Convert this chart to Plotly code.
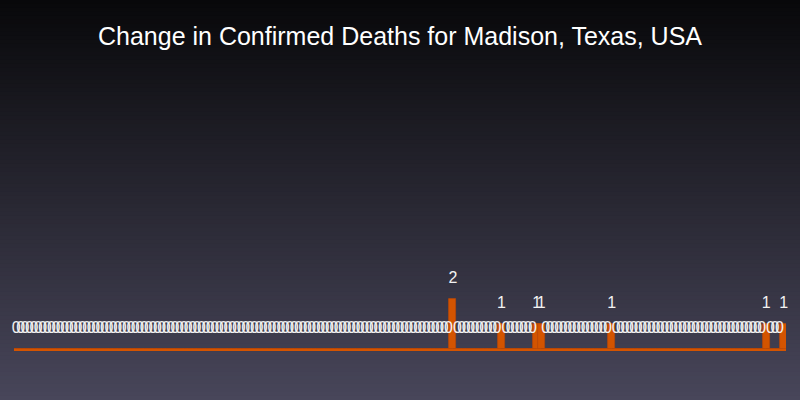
import plotly.graph_objects as go

# ---- data ----
days = list(range(175))
deaths_change = [
    0, 0, 0, 0, 0, 0, 0, 0, 0, 0, 0, 0, 0, 0, 0, 0, 0, 0, 0, 0,
    0, 0, 0, 0, 0, 0, 0, 0, 0, 0, 0, 0, 0, 0, 0, 0, 0, 0, 0, 0,
    0, 0, 0, 0, 0, 0, 0, 0, 0, 0, 0, 0, 0, 0, 0, 0, 0, 0, 0, 0,
    0, 0, 0, 0, 0, 0, 0, 0, 0, 0, 0, 0, 0, 0, 0, 0, 0, 0, 0, 0,
    0, 0, 0, 0, 0, 0, 0, 0, 0, 0, 0, 0, 0, 0, 0, 0, 0, 0, 0, 2,
    0, 0, 0, 0, 0, 0, 0, 0, 0, 0, 1, 0, 0, 0, 0, 0, 0, 0, 1, 1,
    0, 0, 0, 0, 0, 0, 0, 0, 0, 0, 0, 0, 0, 0, 0, 1, 0, 0, 0, 0,
    0, 0, 0, 0, 0, 0, 0, 0, 0, 0, 0, 0, 0, 0, 0, 0, 0, 0, 0, 0,
    0, 0, 0, 0, 0, 0, 0, 0, 0, 0, 1, 0, 0, 0, 1,
]
title_text = "Change in Confirmed Deaths for Madison, Texas, USA"

# ---- style ----
W, H = 800, 400
ML, MR, MT, MB = 14, 14, 99, 51
Y_MAX = 10
BAR_COLOR = "#d35400"
LABEL_OFFSET = 0.82
FONT = "Liberation Sans, Arial, sans-serif"

fig = go.Figure()
fig.add_trace(go.Bar(
    x=days, y=deaths_change,
    width=1.6,
    marker=dict(color=BAR_COLOR, line=dict(color="#b84808", width=0.8)),
    hoverinfo="skip",
))
fig.add_trace(go.Scatter(
    x=days, y=[v + LABEL_OFFSET for v in deaths_change],
    mode="text", text=[str(v) for v in deaths_change],
    textposition="middle center",
    textfont=dict(family=FONT, size=16, color="#f2f2f2"),
    hoverinfo="skip", cliponaxis=False,
))

# vertical gradient background built from thin strips
shapes = []
n_strips = 100
top_c = (8, 8, 10)
bot_c = (72, 70, 90)
ph = H - MT - MB
for k in range(n_strips):
    y0px = k * H / n_strips
    y1px = (k + 1) * H / n_strips
    t = (y0px + y1px) / 2 / H
    c = tuple(round(top_c[j] + (bot_c[j] - top_c[j]) * t) for j in range(3))
    shapes.append(dict(
        type="rect", xref="paper", yref="paper", layer="below",
        x0=-0.1, x1=1.1,
        y0=(H - MB - y1px) / ph - 0.001, y1=(H - MB - y0px) / ph + 0.001,
        fillcolor="rgb(%d,%d,%d)" % c, line=dict(width=0),
    ))

fig.update_layout(
    width=W, height=H,
    margin=dict(l=ML, r=MR, t=MT, b=MB, pad=0),
    paper_bgcolor="rgb(8,8,10)",
    plot_bgcolor="rgba(0,0,0,0)",
    showlegend=False,
    bargap=0,
    shapes=shapes,
    title=dict(text=title_text, x=0.5, xanchor="center", y=0.91, yanchor="middle",
               yref="container", font=dict(family=FONT, size=25, color="#ffffff")),
    xaxis=dict(range=[-0.5, len(days) - 0.5], visible=False, fixedrange=True),
    yaxis=dict(range=[0, Y_MAX], showgrid=False, showticklabels=False, ticks="",
               zeroline=True, zerolinecolor=BAR_COLOR, zerolinewidth=3,
               fixedrange=True),
)

fig.write_html("out.html")
